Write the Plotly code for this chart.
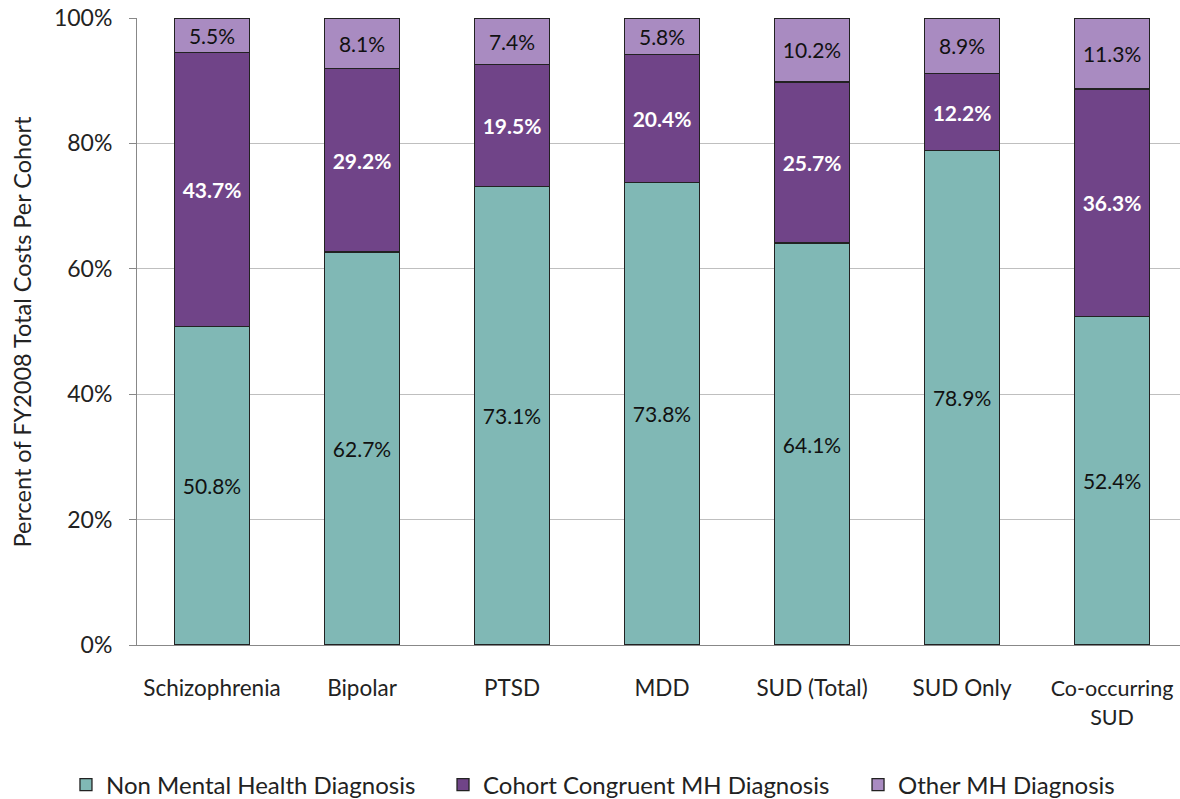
import plotly.graph_objects as go

categories = ["Schizophrenia", "Bipolar", "PTSD", "MDD", "SUD (Total)", "SUD Only", "Co-occurring<br>SUD"]
non_mh = [50.8, 62.7, 73.1, 73.8, 64.1, 78.9, 52.4]
congruent_mh = [43.7, 29.2, 19.5, 20.4, 25.7, 12.2, 36.3]
other_mh = [5.5, 8.1, 7.4, 5.8, 10.2, 8.9, 11.3]
y_ticks = [0, 20, 40, 60, 80, 100]
y_title = "Percent of FY2008 Total Costs Per Cohort"

FONT = "Lato, 'Open Sans', sans-serif"
series = [
    ("Non Mental Health Diagnosis", non_mh, "#80B8B5", "#111111", "normal", "legend", -0.0681),
    ("Cohort Congruent MH Diagnosis", congruent_mh, "#704488", "#FFFFFF", "bold", "legend2", 0.2934),
    ("Other MH Diagnosis", other_mh, "#A98BC1", "#111111", "normal", "legend3", 0.6913),
]

fig = go.Figure()
legends = {}
for name, vals, color, tcolor, weight, leg, lx in series:
    fig.add_trace(go.Bar(
        name=name, x=categories, y=vals, width=0.5, legend=leg,
        marker=dict(color=color, line=dict(color="#222222", width=1.3)),
        text=[f"{v:.1f}%" for v in vals], textposition="inside",
        insidetextanchor="middle", textangle=0,
        textfont=dict(family=FONT, size=21, color=tcolor, weight=weight),
        constraintext="none",
    ))
    legends[leg] = dict(orientation="h", x=lx, xanchor="left", xref="paper",
                        y=-0.2233, yanchor="middle", font=dict(size=24),
                        itemwidth=30, bgcolor="rgba(0,0,0,0)")

fig.update_layout(
    barmode="stack",
    width=1180, height=799,
    paper_bgcolor="white", plot_bgcolor="white",
    margin=dict(l=137, r=0, t=18, b=154, autoexpand=False),
    font=dict(family=FONT, size=23, color="#222222"),
    uniformtext=dict(mode=False),
    showlegend=True,
    **legends,
)
fig.add_annotation(text=y_title, textangle=-90, xref="paper", yref="paper",
                   x=-0.1103, y=0.5, xanchor="center", yanchor="middle",
                   showarrow=False, font=dict(size=23.5, color="#222222"))
x_ticktext = [c if i < len(categories) - 1 else "<span style='font-size:21.5px'>" + c.replace("<br>", "</span><br><span style='font-size:21.5px'>") + "</span>"
              for i, c in enumerate(categories)]
fig.update_xaxes(range=[-0.5, 6.453], showline=True, linecolor="#888888", linewidth=1,
                 ticks="", ticklabelstandoff=23, tickfont=dict(size=22.5),
                 tickvals=categories, ticktext=x_ticktext,
                 automargin=False, ticklabeloverflow="allow")
fig.update_yaxes(range=[0, 100], tickvals=y_ticks, ticktext=[f"{t}%" for t in y_ticks],
                 showgrid=True, gridcolor="#BFBFBF", gridwidth=1,
                 showline=True, linecolor="#888888", linewidth=1,
                 ticks="outside", ticklen=7, tickcolor="#888888", ticklabelstandoff=12,
                 tickfont=dict(size=23), zeroline=False, automargin=False,
                 ticklabeloverflow="allow")

fig.write_html("out.html", config={"displayModeBar": False},
               post_script="document.body.style.margin='0px';")
